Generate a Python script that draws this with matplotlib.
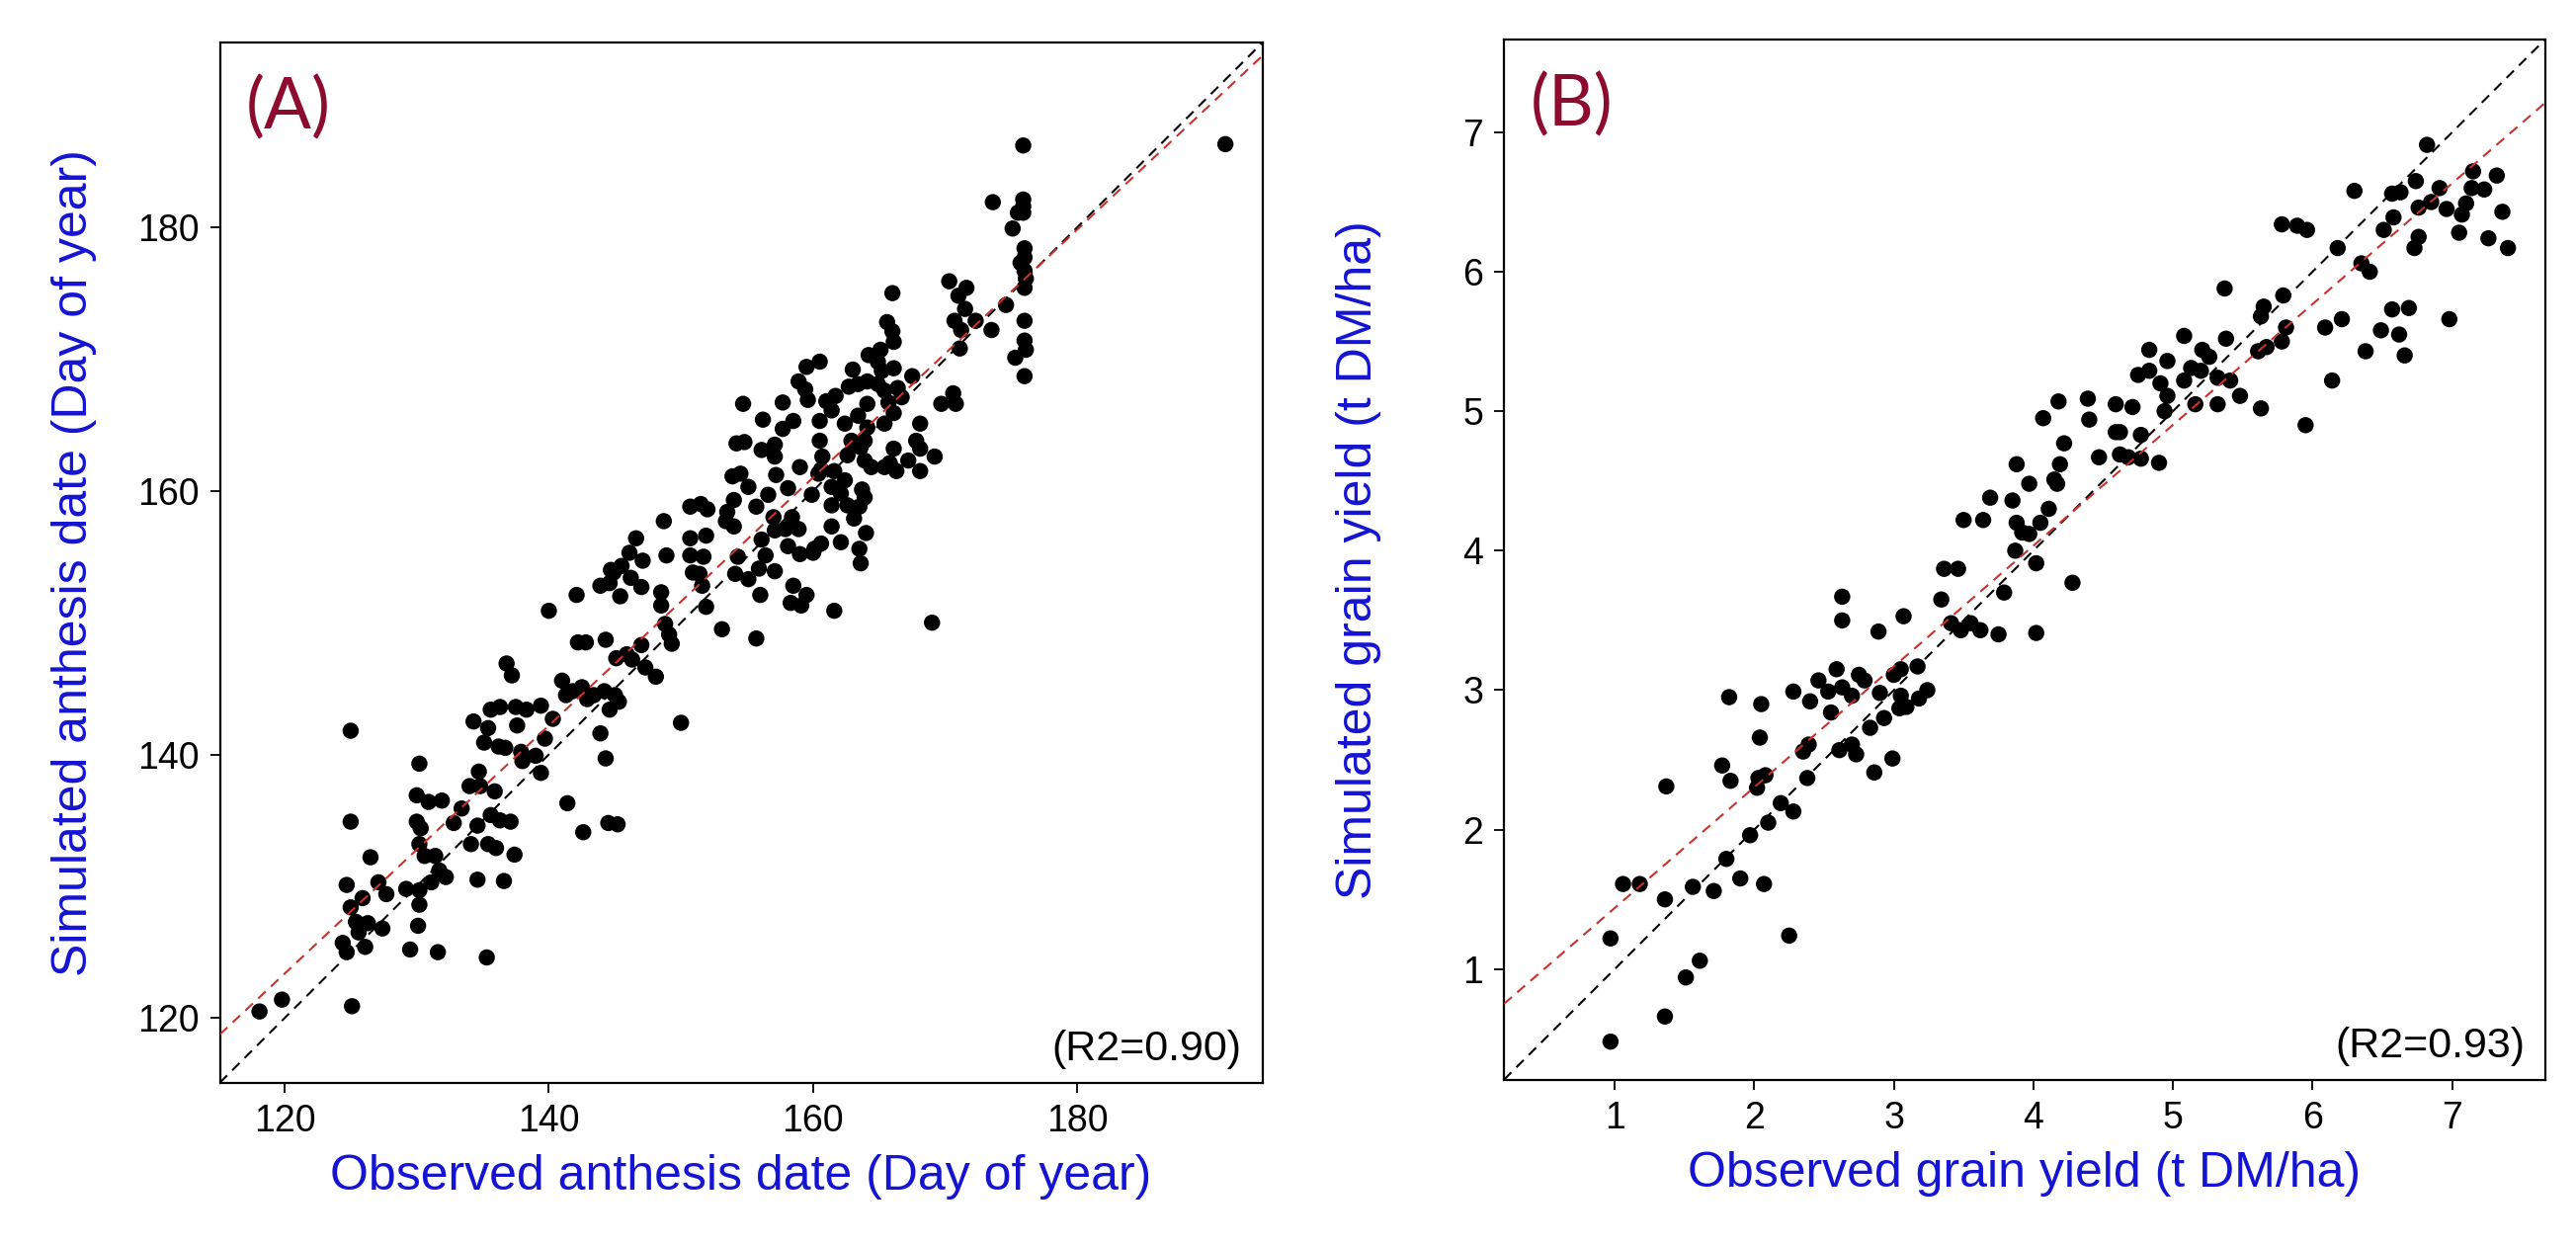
import matplotlib.pyplot as plt

plt.rcParams['font.family'] = ['Liberation Sans', 'DejaVu Sans']

# ---- panel A : anthesis date (day of year) ----
obs_anthesis = [
    118.1, 119.8, 125.1, 125.0, 125.0, 126.5, 124.7, 125.0, 125.9, 127.1,
    127.7, 125.4, 126.3, 124.4, 124.7, 126.1, 127.4, 125.6, 130.2, 130.0,
    130.9, 131.9, 130.0, 130.3, 130.2, 130.6, 131.4, 131.7, 132.2, 131.1,
    129.2, 130.2, 130.2, 130.1, 129.5, 131.6, 133.4, 132.8, 134.0, 134.7,
    134.8, 134.3, 135.4, 135.1, 136.2, 136.7, 135.6, 136.3, 137.5, 138.3,
    137.6, 136.8, 137.2, 137.9, 138.0, 139.0, 139.4, 139.7, 139.4, 135.9,
    135.6, 136.3, 137.1, 134.6, 134.1, 135.4, 136.0, 137.4, 134.6, 136.6,
    135.3, 140.0, 142.1, 140.3, 141.0, 141.3, 141.8, 142.5, 142.9, 143.4,
    144.2, 145.0, 144.6, 145.3, 143.9, 144.3, 141.4, 142.6, 144.5, 145.2,
    150.0, 142.8, 142.2, 144.3, 145.1, 145.9, 146.3, 147.0, 147.3, 148.1,
    148.5, 148.5, 148.8, 149.1, 149.3, 143.9, 144.6, 145.4, 146.2, 147.0,
    144.9, 145.5, 151.4, 151.9, 153.1, 154.1, 150.9, 151.6,
    146.6, 148.7, 150.7, 151.5, 152.0, 150.7, 151.9, 153.5, 154.0, 153.4,
    154.0, 153.9, 154.5, 155.1, 154.2, 154.8, 154.7, 146.1, 147.1, 148.9,
    150.7, 151.7, 154.3, 144.7,
    175.9, 191.2, 175.9, 175.9, 175.9, 175.5,
    173.6, 175.1, 176.0, 176.0, 175.7, 176.0, 176.1, 176.0, 170.3, 171.6,
    171.0, 171.5, 170.7, 171.2, 172.3, 173.5, 174.6, 171.1, 176.0, 176.0,
    176.1, 175.3, 176.0, 166.0, 165.6, 166.0, 166.1, 165.1, 164.2, 164.9,
    166.1, 165.2, 167.5, 163.0, 162.7, 163.4, 164.1, 164.9, 165.4, 166.4,
    166.7, 165.7, 164.1, 163.4, 166.1, 165.4, 164.1, 170.6, 169.7, 170.8,
    168.1, 167.8, 168.1, 169.2, 167.2, 168.1, 166.1, 165.8, 166.3, 165.4,
    160.5, 159.5, 158.9, 159.4, 157.7, 159.6, 161.0, 161.7, 156.2, 158.5,
    157.7, 160.5, 161.4, 162.4, 160.5, 162.9, 163.9, 163.6, 163.9, 162.6,
    157.1, 156.1, 157.1, 159.0, 160.7, 160.6, 161.6, 162.4, 161.4, 160.4,
    164.4, 157.2, 158.1, 159.9, 162.1, 163.7, 163.9, 156.6, 155.7, 161.4,
    162.6, 163.5, 163.1, 157.0, 158.4, 158.9, 157.9, 157.1, 161.4, 164.0,
    162.1, 163.5, 160.6, 160.1, 158.1, 156.1, 156.4,
    155.1, 156.0, 155.9, 157.1, 158.5, 158.3, 159.1, 159.5, 159.0, 160.0,
    163.6, 161.6, 169.0, 155.7,
]
sim_anthesis = [
    120.5, 121.4, 120.9, 141.8, 134.9, 132.2, 130.1, 128.4, 129.1, 130.3,
    129.4, 127.3, 127.2, 125.7, 125.0, 125.4, 126.8, 126.5, 139.3, 136.9,
    136.4, 136.5, 134.9, 134.4, 133.2, 132.3, 132.3, 131.2, 130.7, 130.3,
    129.8, 129.7, 128.6, 127.0, 125.2, 125.0, 135.9, 134.8, 137.6, 138.7,
    137.6, 142.5, 142.0, 140.9, 140.6, 140.5, 143.4, 143.6, 143.6, 143.4,
    142.2, 146.9, 146.0, 140.2, 139.5, 139.9, 138.6, 141.2, 143.7, 137.2,
    135.4, 135.0, 134.9, 134.6, 133.2, 133.2, 132.9, 132.4, 130.5, 130.4,
    124.6, 150.9, 152.1, 142.7, 145.6, 144.5, 144.8, 145.1, 144.2, 144.5,
    144.8, 144.5, 143.4, 144.0, 141.6, 139.7, 136.3, 134.1, 134.8, 134.7,
    142.4, 148.5, 148.5, 148.7, 147.3, 147.6, 147.2, 148.3, 146.6, 145.9,
    152.3, 151.3, 149.9, 149.1, 148.4, 152.8, 153.0, 152.0, 153.4, 152.7,
    153.8, 154.3, 153.7, 151.2, 149.5, 153.7, 153.8, 152.8,
    156.4, 157.7, 158.8, 159.0, 158.6, 156.4, 156.6, 158.4, 159.3, 157.7,
    157.3, 161.1, 161.3, 160.3, 163.6, 163.7, 166.6, 155.3, 154.7, 155.1,
    155.1, 155.0, 155.0, 154.0,
    186.2, 186.3, 182.1, 181.6, 181.1, 181.1,
    181.9, 179.9, 178.4, 177.7, 177.3, 176.7, 176.1, 175.4, 175.9, 175.4,
    174.8, 173.8, 172.9, 172.2, 172.9, 172.2, 174.1, 170.8, 172.9, 171.4,
    170.7, 170.1, 168.7, 175.0, 172.8, 172.1, 171.3, 170.7, 170.3, 169.8,
    169.3, 169.1, 168.7, 169.2, 167.9, 168.1, 168.3, 168.1, 167.6, 167.8,
    167.1, 166.7, 166.6, 165.7, 165.9, 165.1, 164.8, 167.4, 166.6, 166.6,
    165.1, 163.8, 163.2, 162.6, 162.3, 161.5, 163.2, 162.1, 161.5, 161.8,
    169.8, 169.4, 168.3, 167.7, 166.7, 166.9, 166.8, 167.2, 165.4, 165.3,
    164.7, 165.3, 166.1, 165.1, 163.8, 163.8, 163.8, 163.3, 162.3, 162.7,
    163.5, 163.1, 162.6, 161.8, 162.6, 161.6, 161.5, 160.8, 160.3, 161.3,
    161.8, 161.2, 160.2, 159.7, 159.8, 160.1, 159.5, 159.7, 158.8, 158.9,
    158.9, 158.8, 157.9, 158.0, 158.0, 157.1, 157.1, 157.0, 157.3, 156.8,
    156.1, 155.6, 156.0, 155.6, 155.8, 156.3, 155.1,
    153.3, 152.1, 154.1, 153.9, 152.8, 151.5, 151.3, 152.1, 155.2, 155.3,
    154.5, 150.9, 150.0, 148.8,
]

# ---- panel B : grain yield (t DM/ha) ----
obs_yield = [
    0.97, 0.97, 1.06, 1.18, 1.36, 1.36, 1.37, 1.51, 1.61, 1.56,
    1.71, 1.90, 1.80, 1.77, 1.83, 1.82, 1.97, 2.07, 2.10, 2.02,
    2.03, 2.08, 2.04, 2.05, 2.19, 2.28, 2.25, 2.28,
    2.35, 2.38, 2.39, 2.40, 2.55, 2.61, 2.70, 2.73, 2.70, 2.83,
    2.86, 2.90, 2.93, 2.99, 3.05, 3.04, 3.09, 3.18, 3.24, 2.53, 2.63,
    5.08, 4.83, 4.96, 5.21, 5.26, 5.13, 5.20, 4.83, 4.75, 5.08,
    4.91, 4.96, 4.94, 5.16, 4.18, 4.39, 4.59, 4.71, 4.07, 4.40,
    4.22, 4.59, 4.62, 4.77, 4.47, 4.62, 4.68, 4.77, 4.90, 4.19,
    3.88, 3.97, 4.15, 4.17, 3.69, 3.85, 4.11, 3.50, 3.64, 3.88,
    4.05, 3.92, 3.97, 3.87, 4.02, 4.28, 3.36, 3.46, 3.79, 3.34,
    2.63, 2.63, 2.89, 3.07, 3.41, 3.55, 3.48, 3.62, 3.75, 4.02,
    2.59, 2.46, 3.17, 3.05, 3.00, 2.75, 2.79,
    6.82, 7.15, 7.32, 6.74, 6.91, 7.14, 7.23, 6.30, 6.57, 6.63,
    6.85, 6.96, 6.76, 7.10, 7.07, 7.36, 6.58, 6.51, 7.05, 6.76,
    6.73, 7.26, 7.40, 5.78, 5.89, 5.96, 6.18, 6.35, 6.41, 5.37,
    5.79, 5.65, 5.63, 5.81, 5.78, 5.67, 5.61, 6.09, 6.21, 6.57,
    6.69, 6.98, 6.49, 6.62, 6.38, 6.66, 6.14, 5.95, 5.38, 5.32,
    5.41, 5.32, 5.48, 5.63,
]
sim_yield = [
    0.48, 1.22, 1.61, 1.61, 1.50, 0.66, 2.31, 0.94, 1.06, 1.59,
    1.56, 1.65, 1.79, 2.46, 2.35, 2.95, 1.96, 1.61, 2.05, 2.30,
    2.37, 2.39, 2.66, 2.90, 2.19, 2.13, 1.24, 2.99,
    2.56, 2.37, 2.61, 2.92, 2.84, 2.57, 2.61, 2.54, 2.96, 2.73,
    2.41, 2.98, 2.80, 2.51, 2.96, 2.87, 2.88, 2.94, 3.00, 2.99, 3.02,
    5.54, 5.44, 5.36, 5.44, 5.39, 5.31, 5.29, 5.29, 5.26, 5.22,
    5.20, 5.11, 5.00, 5.05, 5.07, 5.09, 5.05, 5.03, 4.95, 4.94,
    4.77, 4.85, 4.85, 4.83, 4.67, 4.69, 4.67, 4.66, 4.63, 4.62,
    4.62, 4.48, 4.51, 4.48, 4.38, 4.36, 4.30, 4.22, 4.22, 4.20,
    4.20, 4.13, 4.12, 4.00, 3.91, 3.77, 3.87, 3.87, 3.70, 3.65,
    3.67, 3.50, 3.42, 3.53, 3.48, 3.48, 3.43, 3.43, 3.40, 3.41,
    3.15, 3.07, 3.17, 3.15, 3.11, 3.11, 3.07,
    6.91, 6.72, 6.69, 6.65, 6.60, 6.60, 6.59, 6.58, 6.56, 6.57,
    6.50, 6.45, 6.46, 6.49, 6.41, 6.43, 6.39, 6.30, 6.28, 6.25,
    6.17, 6.24, 6.17, 6.34, 6.33, 6.30, 6.17, 6.06, 6.00, 5.88,
    5.83, 5.75, 5.68, 5.60, 5.50, 5.46, 5.43, 5.60, 5.66, 5.73,
    5.74, 5.66, 5.58, 5.55, 5.43, 5.40, 5.22, 4.90, 5.52, 5.24,
    5.22, 5.05, 5.11, 5.02,
]

# red regression lines: (intercept, slope)
fit_anthesis = (10.45, 0.941)
fit_yield = (0.572, 0.866)
r2_anthesis = "(R2=0.90)"
r2_yield = "(R2=0.93)"

label_blue = '#1414D2'
tag_red = '#8C0B2E'
fit_red = '#C8322D'


def draw_panel(ax, obs, sim, lims, ticks, fit, tag, r2, xlabel, ylabel):
    ax.scatter(obs, sim, s=140, c='black', edgecolors='none', zorder=3)
    ax.axline((lims[0], lims[0]), slope=1, color='black', lw=1.5,
              ls=(0, (5, 3.5)), zorder=4)
    ax.axline((0, fit[0]), slope=fit[1], color=fit_red, lw=1.5,
              ls=(0, (5, 3.5)), zorder=4)
    ax.set_xlim(lims)
    ax.set_ylim(lims)
    ax.set_xticks(ticks)
    ax.set_yticks(ticks)
    ax.tick_params(direction='out', length=7, width=1.3, labelsize=27, pad=8)
    for sp in ax.spines.values():
        sp.set_linewidth(1.6)
    ax.set_xlabel(xlabel, fontsize=36, color=label_blue)
    ax.set_ylabel(ylabel, fontsize=36, color=label_blue)
    # same distance from the frame in both panels
    ax.xaxis.set_label_coords(0.5, -0.069)
    ax.yaxis.set_label_coords(-0.118, 0.5)
    ax.text(0.025, 0.917, tag, transform=ax.transAxes, fontsize=51,
            color=tag_red, family=['Lato', 'DejaVu Sans'], va='baseline')
    ax.text(0.98, 0.022, r2, transform=ax.transAxes, fontsize=31,
            ha='right', va='baseline')


fig = plt.figure(figsize=(26.07, 12.61), dpi=100)
ax_a = fig.add_axes([0.08535, 0.13109, 0.4047, 0.83466])
ax_b = fig.add_axes([0.58385, 0.13347, 0.40426, 0.83513])

draw_panel(ax_a, obs_anthesis, sim_anthesis, (115.1, 194.0),
           [120, 140, 160, 180], fit_anthesis, "(A)", r2_anthesis,
           "Observed anthesis date (Day of year)",
           "Simulated anthesis date (Day of year)")
draw_panel(ax_b, obs_yield, sim_yield, (0.207, 7.668),
           [1, 2, 3, 4, 5, 6, 7], fit_yield, "(B)", r2_yield,
           "Observed grain yield (t DM/ha)",
           "Simulated grain yield (t DM/ha)")

fig.savefig('out.png', dpi=100)
